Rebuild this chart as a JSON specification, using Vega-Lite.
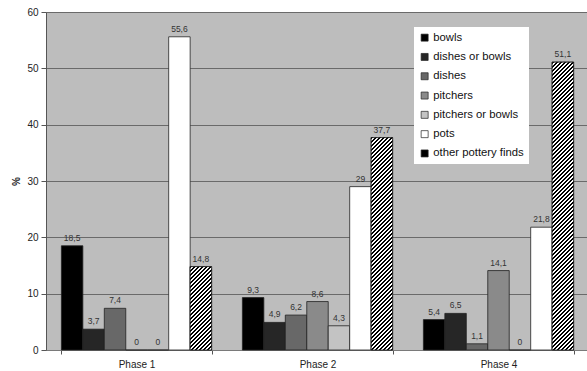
{
  "$schema": "https://vega.github.io/schema/vega-lite/v6.json",
  "width": 543,
  "height": 338,
  "autosize": "none",
  "padding": {"left": 46, "top": 12, "right": 0, "bottom": 21},
  "config": {
    "font": "Liberation Sans",
    "view": {"fill": "#bdbdbd", "stroke": null},
    "locale": {"number": {"decimal": ",", "thousands": ".", "grouping": [3], "currency": ["", " €"]}}
  },
  "params": [
    {
      "name": "hatch",
      "value": [
{"offset":0,"color":"#000"},{"offset":0.00625,"color":"#000"},{"offset":0.00625,"color":"#fff"},{"offset":0.0125,"color":"#fff"},{"offset":0.0125,"color":"#000"},{"offset":0.01875,"color":"#000"},{"offset":0.01875,"color":"#fff"},{"offset":0.025,"color":"#fff"},{"offset":0.025,"color":"#000"},{"offset":0.03125,"color":"#000"},{"offset":0.03125,"color":"#fff"},{"offset":0.0375,"color":"#fff"},{"offset":0.0375,"color":"#000"},{"offset":0.04375,"color":"#000"},{"offset":0.04375,"color":"#fff"},{"offset":0.05,"color":"#fff"},{"offset":0.05,"color":"#000"},{"offset":0.05625,"color":"#000"},{"offset":0.05625,"color":"#fff"},{"offset":0.0625,"color":"#fff"},{"offset":0.0625,"color":"#000"},{"offset":0.06875,"color":"#000"},{"offset":0.06875,"color":"#fff"},{"offset":0.075,"color":"#fff"},{"offset":0.075,"color":"#000"},{"offset":0.08125,"color":"#000"},{"offset":0.08125,"color":"#fff"},{"offset":0.0875,"color":"#fff"},{"offset":0.0875,"color":"#000"},{"offset":0.09375,"color":"#000"},{"offset":0.09375,"color":"#fff"},{"offset":0.1,"color":"#fff"},
{"offset":0.1,"color":"#000"},{"offset":0.10625,"color":"#000"},{"offset":0.10625,"color":"#fff"},{"offset":0.1125,"color":"#fff"},{"offset":0.1125,"color":"#000"},{"offset":0.11875,"color":"#000"},{"offset":0.11875,"color":"#fff"},{"offset":0.125,"color":"#fff"},{"offset":0.125,"color":"#000"},{"offset":0.13125,"color":"#000"},{"offset":0.13125,"color":"#fff"},{"offset":0.1375,"color":"#fff"},{"offset":0.1375,"color":"#000"},{"offset":0.14375,"color":"#000"},{"offset":0.14375,"color":"#fff"},{"offset":0.15,"color":"#fff"},{"offset":0.15,"color":"#000"},{"offset":0.15625,"color":"#000"},{"offset":0.15625,"color":"#fff"},{"offset":0.1625,"color":"#fff"},{"offset":0.1625,"color":"#000"},{"offset":0.16875,"color":"#000"},{"offset":0.16875,"color":"#fff"},{"offset":0.175,"color":"#fff"},{"offset":0.175,"color":"#000"},{"offset":0.18125,"color":"#000"},{"offset":0.18125,"color":"#fff"},{"offset":0.1875,"color":"#fff"},{"offset":0.1875,"color":"#000"},{"offset":0.19375,"color":"#000"},{"offset":0.19375,"color":"#fff"},{"offset":0.2,"color":"#fff"},
{"offset":0.2,"color":"#000"},{"offset":0.20625,"color":"#000"},{"offset":0.20625,"color":"#fff"},{"offset":0.2125,"color":"#fff"},{"offset":0.2125,"color":"#000"},{"offset":0.21875,"color":"#000"},{"offset":0.21875,"color":"#fff"},{"offset":0.225,"color":"#fff"},{"offset":0.225,"color":"#000"},{"offset":0.23125,"color":"#000"},{"offset":0.23125,"color":"#fff"},{"offset":0.2375,"color":"#fff"},{"offset":0.2375,"color":"#000"},{"offset":0.24375,"color":"#000"},{"offset":0.24375,"color":"#fff"},{"offset":0.25,"color":"#fff"},{"offset":0.25,"color":"#000"},{"offset":0.25625,"color":"#000"},{"offset":0.25625,"color":"#fff"},{"offset":0.2625,"color":"#fff"},{"offset":0.2625,"color":"#000"},{"offset":0.26875,"color":"#000"},{"offset":0.26875,"color":"#fff"},{"offset":0.275,"color":"#fff"},{"offset":0.275,"color":"#000"},{"offset":0.28125,"color":"#000"},{"offset":0.28125,"color":"#fff"},{"offset":0.2875,"color":"#fff"},{"offset":0.2875,"color":"#000"},{"offset":0.29375,"color":"#000"},{"offset":0.29375,"color":"#fff"},{"offset":0.3,"color":"#fff"},
{"offset":0.3,"color":"#000"},{"offset":0.30625,"color":"#000"},{"offset":0.30625,"color":"#fff"},{"offset":0.3125,"color":"#fff"},{"offset":0.3125,"color":"#000"},{"offset":0.31875,"color":"#000"},{"offset":0.31875,"color":"#fff"},{"offset":0.325,"color":"#fff"},{"offset":0.325,"color":"#000"},{"offset":0.33125,"color":"#000"},{"offset":0.33125,"color":"#fff"},{"offset":0.3375,"color":"#fff"},{"offset":0.3375,"color":"#000"},{"offset":0.34375,"color":"#000"},{"offset":0.34375,"color":"#fff"},{"offset":0.35,"color":"#fff"},{"offset":0.35,"color":"#000"},{"offset":0.35625,"color":"#000"},{"offset":0.35625,"color":"#fff"},{"offset":0.3625,"color":"#fff"},{"offset":0.3625,"color":"#000"},{"offset":0.36875,"color":"#000"},{"offset":0.36875,"color":"#fff"},{"offset":0.375,"color":"#fff"},{"offset":0.375,"color":"#000"},{"offset":0.38125,"color":"#000"},{"offset":0.38125,"color":"#fff"},{"offset":0.3875,"color":"#fff"},{"offset":0.3875,"color":"#000"},{"offset":0.39375,"color":"#000"},{"offset":0.39375,"color":"#fff"},{"offset":0.4,"color":"#fff"},
{"offset":0.4,"color":"#000"},{"offset":0.40625,"color":"#000"},{"offset":0.40625,"color":"#fff"},{"offset":0.4125,"color":"#fff"},{"offset":0.4125,"color":"#000"},{"offset":0.41875,"color":"#000"},{"offset":0.41875,"color":"#fff"},{"offset":0.425,"color":"#fff"},{"offset":0.425,"color":"#000"},{"offset":0.43125,"color":"#000"},{"offset":0.43125,"color":"#fff"},{"offset":0.4375,"color":"#fff"},{"offset":0.4375,"color":"#000"},{"offset":0.44375,"color":"#000"},{"offset":0.44375,"color":"#fff"},{"offset":0.45,"color":"#fff"},{"offset":0.45,"color":"#000"},{"offset":0.45625,"color":"#000"},{"offset":0.45625,"color":"#fff"},{"offset":0.4625,"color":"#fff"},{"offset":0.4625,"color":"#000"},{"offset":0.46875,"color":"#000"},{"offset":0.46875,"color":"#fff"},{"offset":0.475,"color":"#fff"},{"offset":0.475,"color":"#000"},{"offset":0.48125,"color":"#000"},{"offset":0.48125,"color":"#fff"},{"offset":0.4875,"color":"#fff"},{"offset":0.4875,"color":"#000"},{"offset":0.49375,"color":"#000"},{"offset":0.49375,"color":"#fff"},{"offset":0.5,"color":"#fff"},
{"offset":0.5,"color":"#000"},{"offset":0.50625,"color":"#000"},{"offset":0.50625,"color":"#fff"},{"offset":0.5125,"color":"#fff"},{"offset":0.5125,"color":"#000"},{"offset":0.51875,"color":"#000"},{"offset":0.51875,"color":"#fff"},{"offset":0.525,"color":"#fff"},{"offset":0.525,"color":"#000"},{"offset":0.53125,"color":"#000"},{"offset":0.53125,"color":"#fff"},{"offset":0.5375,"color":"#fff"},{"offset":0.5375,"color":"#000"},{"offset":0.54375,"color":"#000"},{"offset":0.54375,"color":"#fff"},{"offset":0.55,"color":"#fff"},{"offset":0.55,"color":"#000"},{"offset":0.55625,"color":"#000"},{"offset":0.55625,"color":"#fff"},{"offset":0.5625,"color":"#fff"},{"offset":0.5625,"color":"#000"},{"offset":0.56875,"color":"#000"},{"offset":0.56875,"color":"#fff"},{"offset":0.575,"color":"#fff"},{"offset":0.575,"color":"#000"},{"offset":0.58125,"color":"#000"},{"offset":0.58125,"color":"#fff"},{"offset":0.5875,"color":"#fff"},{"offset":0.5875,"color":"#000"},{"offset":0.59375,"color":"#000"},{"offset":0.59375,"color":"#fff"},{"offset":0.6,"color":"#fff"},
{"offset":0.6,"color":"#000"},{"offset":0.60625,"color":"#000"},{"offset":0.60625,"color":"#fff"},{"offset":0.6125,"color":"#fff"},{"offset":0.6125,"color":"#000"},{"offset":0.61875,"color":"#000"},{"offset":0.61875,"color":"#fff"},{"offset":0.625,"color":"#fff"},{"offset":0.625,"color":"#000"},{"offset":0.63125,"color":"#000"},{"offset":0.63125,"color":"#fff"},{"offset":0.6375,"color":"#fff"},{"offset":0.6375,"color":"#000"},{"offset":0.64375,"color":"#000"},{"offset":0.64375,"color":"#fff"},{"offset":0.65,"color":"#fff"},{"offset":0.65,"color":"#000"},{"offset":0.65625,"color":"#000"},{"offset":0.65625,"color":"#fff"},{"offset":0.6625,"color":"#fff"},{"offset":0.6625,"color":"#000"},{"offset":0.66875,"color":"#000"},{"offset":0.66875,"color":"#fff"},{"offset":0.675,"color":"#fff"},{"offset":0.675,"color":"#000"},{"offset":0.68125,"color":"#000"},{"offset":0.68125,"color":"#fff"},{"offset":0.6875,"color":"#fff"},{"offset":0.6875,"color":"#000"},{"offset":0.69375,"color":"#000"},{"offset":0.69375,"color":"#fff"},{"offset":0.7,"color":"#fff"},
{"offset":0.7,"color":"#000"},{"offset":0.70625,"color":"#000"},{"offset":0.70625,"color":"#fff"},{"offset":0.7125,"color":"#fff"},{"offset":0.7125,"color":"#000"},{"offset":0.71875,"color":"#000"},{"offset":0.71875,"color":"#fff"},{"offset":0.725,"color":"#fff"},{"offset":0.725,"color":"#000"},{"offset":0.73125,"color":"#000"},{"offset":0.73125,"color":"#fff"},{"offset":0.7375,"color":"#fff"},{"offset":0.7375,"color":"#000"},{"offset":0.74375,"color":"#000"},{"offset":0.74375,"color":"#fff"},{"offset":0.75,"color":"#fff"},{"offset":0.75,"color":"#000"},{"offset":0.75625,"color":"#000"},{"offset":0.75625,"color":"#fff"},{"offset":0.7625,"color":"#fff"},{"offset":0.7625,"color":"#000"},{"offset":0.76875,"color":"#000"},{"offset":0.76875,"color":"#fff"},{"offset":0.775,"color":"#fff"},{"offset":0.775,"color":"#000"},{"offset":0.78125,"color":"#000"},{"offset":0.78125,"color":"#fff"},{"offset":0.7875,"color":"#fff"},{"offset":0.7875,"color":"#000"},{"offset":0.79375,"color":"#000"},{"offset":0.79375,"color":"#fff"},{"offset":0.8,"color":"#fff"},
{"offset":0.8,"color":"#000"},{"offset":0.80625,"color":"#000"},{"offset":0.80625,"color":"#fff"},{"offset":0.8125,"color":"#fff"},{"offset":0.8125,"color":"#000"},{"offset":0.81875,"color":"#000"},{"offset":0.81875,"color":"#fff"},{"offset":0.825,"color":"#fff"},{"offset":0.825,"color":"#000"},{"offset":0.83125,"color":"#000"},{"offset":0.83125,"color":"#fff"},{"offset":0.8375,"color":"#fff"},{"offset":0.8375,"color":"#000"},{"offset":0.84375,"color":"#000"},{"offset":0.84375,"color":"#fff"},{"offset":0.85,"color":"#fff"},{"offset":0.85,"color":"#000"},{"offset":0.85625,"color":"#000"},{"offset":0.85625,"color":"#fff"},{"offset":0.8625,"color":"#fff"},{"offset":0.8625,"color":"#000"},{"offset":0.86875,"color":"#000"},{"offset":0.86875,"color":"#fff"},{"offset":0.875,"color":"#fff"},{"offset":0.875,"color":"#000"},{"offset":0.88125,"color":"#000"},{"offset":0.88125,"color":"#fff"},{"offset":0.8875,"color":"#fff"},{"offset":0.8875,"color":"#000"},{"offset":0.89375,"color":"#000"},{"offset":0.89375,"color":"#fff"},{"offset":0.9,"color":"#fff"},
{"offset":0.9,"color":"#000"},{"offset":0.90625,"color":"#000"},{"offset":0.90625,"color":"#fff"},{"offset":0.9125,"color":"#fff"},{"offset":0.9125,"color":"#000"},{"offset":0.91875,"color":"#000"},{"offset":0.91875,"color":"#fff"},{"offset":0.925,"color":"#fff"},{"offset":0.925,"color":"#000"},{"offset":0.93125,"color":"#000"},{"offset":0.93125,"color":"#fff"},{"offset":0.9375,"color":"#fff"},{"offset":0.9375,"color":"#000"},{"offset":0.94375,"color":"#000"},{"offset":0.94375,"color":"#fff"},{"offset":0.95,"color":"#fff"},{"offset":0.95,"color":"#000"},{"offset":0.95625,"color":"#000"},{"offset":0.95625,"color":"#fff"},{"offset":0.9625,"color":"#fff"},{"offset":0.9625,"color":"#000"},{"offset":0.96875,"color":"#000"},{"offset":0.96875,"color":"#fff"},{"offset":0.975,"color":"#fff"},{"offset":0.975,"color":"#000"},{"offset":0.98125,"color":"#000"},{"offset":0.98125,"color":"#fff"},{"offset":0.9875,"color":"#fff"},{"offset":0.9875,"color":"#000"},{"offset":0.99375,"color":"#000"},{"offset":0.99375,"color":"#fff"},{"offset":1,"color":"#fff"}
      ]
    }
  ],
  "data": {
    "values": [
      {"phase": "Phase 1", "type": "bowls", "share": 18.5},
      {"phase": "Phase 1", "type": "dishes or bowls", "share": 3.7},
      {"phase": "Phase 1", "type": "dishes", "share": 7.4},
      {"phase": "Phase 1", "type": "pitchers", "share": 0},
      {"phase": "Phase 1", "type": "pitchers or bowls", "share": 0},
      {"phase": "Phase 1", "type": "pots", "share": 55.6},
      {"phase": "Phase 1", "type": "other pottery finds", "share": 14.8},
      {"phase": "Phase 2", "type": "bowls", "share": 9.3},
      {"phase": "Phase 2", "type": "dishes or bowls", "share": 4.9},
      {"phase": "Phase 2", "type": "dishes", "share": 6.2},
      {"phase": "Phase 2", "type": "pitchers", "share": 8.6},
      {"phase": "Phase 2", "type": "pitchers or bowls", "share": 4.3},
      {"phase": "Phase 2", "type": "pots", "share": 29},
      {"phase": "Phase 2", "type": "other pottery finds", "share": 37.7},
      {"phase": "Phase 4", "type": "bowls", "share": 5.4},
      {"phase": "Phase 4", "type": "dishes or bowls", "share": 6.5},
      {"phase": "Phase 4", "type": "dishes", "share": 1.1},
      {"phase": "Phase 4", "type": "pitchers", "share": 14.1},
      {"phase": "Phase 4", "type": "pitchers or bowls", "share": 0},
      {"phase": "Phase 4", "type": "pots", "share": 21.8},
      {"phase": "Phase 4", "type": "other pottery finds", "share": 51.1}
    ]
  },
  "encoding": {
    "x": {
      "field": "phase",
      "type": "nominal",
      "sort": null,
      "scale": {"paddingInner": 0.17, "paddingOuter": 0.085},
      "axis": {
        "title": null,
        "labelAngle": 0,
        "labelFontSize": 10,
        "labelColor": "#222",
        "labelPadding": 5,
        "tickBand": "extent",
        "tickSize": 4,
        "tickColor": "#555",
        "domainColor": "#7a7a7a",
        "grid": false
      }
    },
    "xOffset": {
      "field": "type",
      "type": "nominal",
      "sort": null,
      "scale": {"domain": ["bowls", "dishes or bowls", "dishes", "pitchers", "pitchers or bowls", "pots", "other pottery finds"]}
    },
    "y": {
      "field": "share",
      "type": "quantitative",
      "scale": {"domain": [0, 60], "nice": false},
      "axis": {
        "title": "%",
        "titleFontSize": 10,
        "titleFontWeight": "bold",
        "titleColor": "#222",
        "titlePadding": 5,
        "values": [0, 10, 20, 30, 40, 50, 60],
        "labelFontSize": 10,
        "labelColor": "#222",
        "labelPadding": 3,
        "tickSize": 5,
        "tickColor": "#555",
        "domainColor": "#555",
        "grid": true,
        "gridColor": "#6a6a6a",
        "gridWidth": 1
      }
    }
  },
  "layer": [
    {
      "mark": {"type": "bar", "stroke": "#222", "strokeWidth": 0.8},
      "encoding": {
        "color": {
          "field": "type",
          "type": "nominal",
          "scale": {
            "domain": ["bowls", "dishes or bowls", "dishes", "pitchers", "pitchers or bowls", "pots", "other pottery finds"],
            "range": ["#000000", "#262626", "#686868", "#8a8a8a", "#c3c3c3", "#ffffff", "#000000"]
          },
          "legend": {
            "title": null,
            "orient": "none",
            "legendX": 368,
            "legendY": 15,
            "fillColor": "#ffffff",
            "padding": 5,
            "symbolType": "square",
            "symbolSize": 49,
            "symbolStrokeColor": "#222",
            "symbolStrokeWidth": 0.7,
            "labelFontSize": 11.3,
            "labelColor": "#111",
            "labelOffset": 3,
            "rowPadding": 7.3,
            "encode": {
              "symbols": {
                "update": {
                  "stroke": {"value": "#222"},
                  "strokeWidth": {"value": 0.7},
                  "fill": {"signal": "datum.value === 'other pottery finds' ? {gradient: 'linear', x1: 0, y1: 0, x2: 1, y2: 1, stops: [{offset: 0, color: '#000'}, {offset: 0.6, color: '#000'}, {offset: 0.6, color: '#fff'}, {offset: 1, color: '#fff'}]} : scale('color', datum.value)"}
                }
              }
            }
          }
        }
      }
    },
    {
      "transform": [{"filter": "datum.type === 'other pottery finds'"}],
      "mark": {
        "type": "bar",
        "stroke": "#222",
        "strokeWidth": 0.8,
        "fill": {"expr": "{gradient: 'linear', x1: 0, y1: 0, x2: bandwidth('xOffset') * 320 / (pow(bandwidth('xOffset'), 2) + pow(scale('y', 0) - scale('y', datum.share), 2)), y2: (scale('y', 0) - scale('y', datum.share)) * 320 / (pow(bandwidth('xOffset'), 2) + pow(scale('y', 0) - scale('y', datum.share), 2)), stops: hatch}"}
      }
    },
    {
      "mark": {"type": "text", "baseline": "bottom", "dy": -3, "fontSize": 8.5, "color": "#333"},
      "encoding": {
        "text": {"field": "share", "type": "quantitative", "format": ".1~f"}
      }
    }
  ]
}
